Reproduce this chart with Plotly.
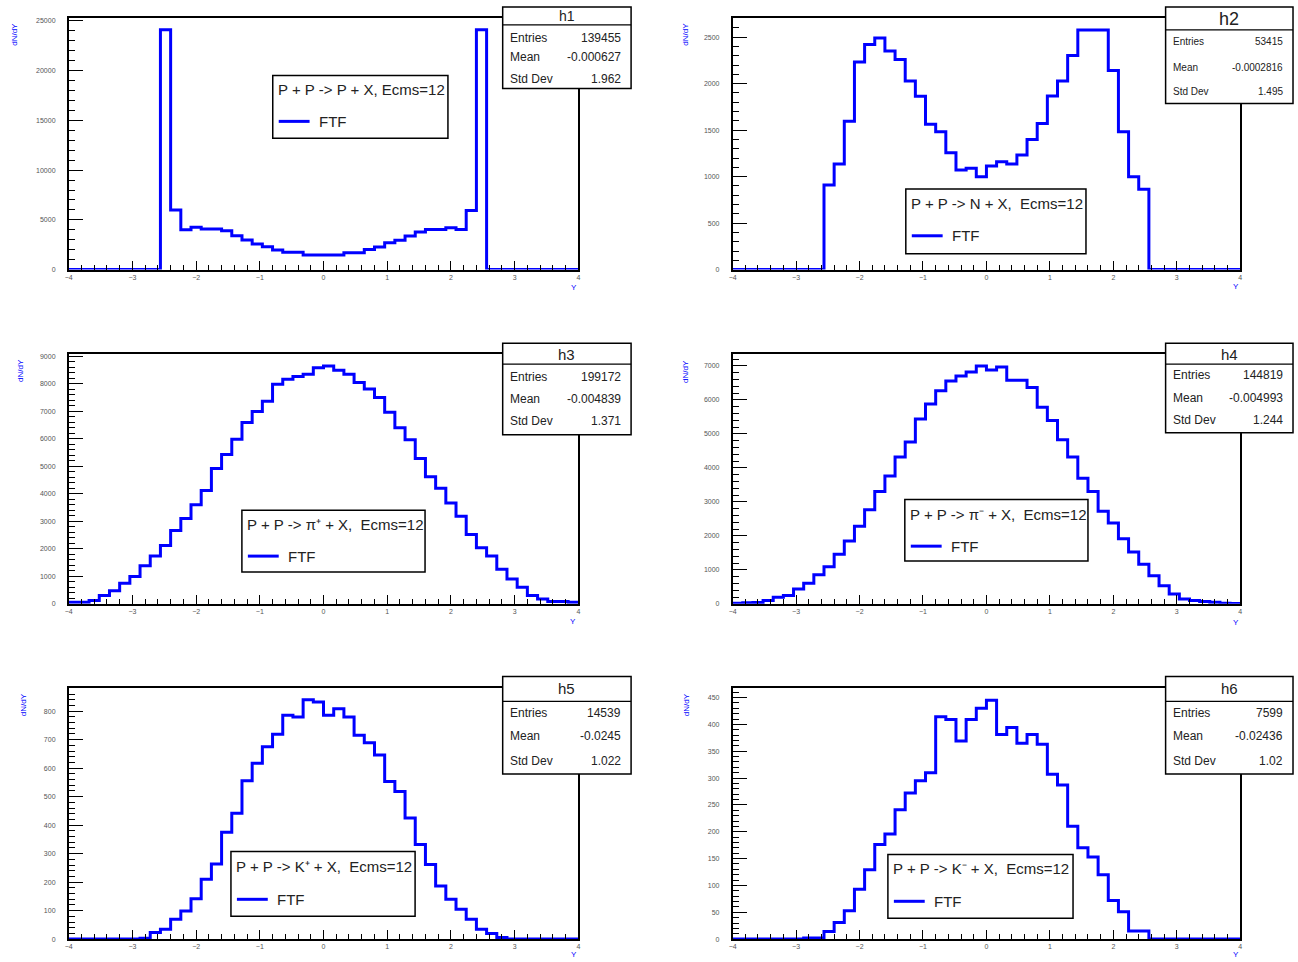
import numpy as np
import plotly.graph_objects as go

# ---------------- data ----------------
BIN_LOW = -4.0
BIN_HIGH = 4.0
N_BINS = 50

h1_counts = [0, 0, 0, 0, 0, 0, 0, 0, 0,
             24100, 6000, 4000, 4270, 4070, 4070, 3900, 3400, 2970, 2570, 2300, 1970, 1740, 1740, 1470, 1470,
             1470, 1470, 1700, 1700, 2030, 2270, 2700, 2940, 3370, 3770, 4040, 4040, 4200, 4040, 5940, 24100,
             0, 0, 0, 0, 0, 0, 0, 0, 0]
h2_counts = [0, 0, 0, 0, 0, 0, 0, 0, 0,
             910, 1135, 1596, 2232, 2420, 2492, 2350, 2260, 2028, 1864, 1564, 1482, 1257, 1071, 1090, 1000,
             1114, 1160, 1135, 1232, 1400, 1571, 1867, 2028, 2303, 2578, 2578, 2578, 2142, 1482, 1000, 864,
             0, 0, 0, 0, 0, 0, 0, 0, 0]
h3_counts = [60, 60, 120, 300, 480, 744, 996, 1380, 1740, 2124,
             2664, 3096, 3600, 4116, 4920, 5424, 5976, 6588, 6984, 7356,
             7980, 8160, 8256, 8340, 8580, 8640, 8484, 8340, 8040, 7800,
             7500, 6960, 6396, 5964, 5280, 4620, 4200, 3660, 3180, 2520,
             2040, 1740, 1260, 900, 600, 300, 180, 84, 84, 60]
h4_counts = [20, 30, 40, 97, 194, 243, 437, 603, 855, 1089,
             1458, 1847, 2284, 2770, 3305, 3762, 4325, 4763, 5443, 5881,
             6269, 6561, 6707, 6823, 6998, 6880, 6970, 6580, 6580, 6367,
             5783, 5395, 4831, 4325, 3694, 3305, 2722, 2381, 1915, 1526,
             1166, 826, 535, 292, 146, 97, 68, 49, 20, 10]
h5_counts = [0, 0, 0, 0, 0, 0, 0,
             3, 23, 35, 70, 99, 142, 210, 264, 375, 442,
             556, 617, 675, 719, 786, 780, 840, 832, 786, 809,
             780, 716, 689, 646, 553, 518, 425, 332, 262, 186,
             140, 105, 70, 35, 20, 6,
             0, 0, 0, 0, 0, 0, 0]
h6_counts = [0, 0, 0, 0, 0, 0, 0,
             2, 2, 14, 31, 53, 93, 129, 176, 196, 241,
             272, 295, 310, 414, 409, 369, 409, 430, 445, 381,
             394, 365, 381, 363, 307, 287, 210, 170, 153, 120,
             72, 51, 15, 15,
             0, 0, 0, 0, 0, 0, 0, 0, 0]

hist_names = ["h1", "h2", "h3", "h4", "h5", "h6"]
stat_entries = ["139455", "53415", "199172", "144819", "14539", "7599"]
stat_means = ["-0.000627", "-0.0002816", "-0.004839", "-0.004993", "-0.0245", "-0.02436"]
stat_stddevs = ["1.962", "1.495", "1.371", "1.244", "1.022", "1.02"]
legend_titles = [
    "P + P -> P + X, Ecms=12",
    "P + P -> N + X,\u00a0 Ecms=12",
    "P + P -> \u03c0\u207a + X,\u00a0 Ecms=12",
    "P + P -> \u03c0\u207b + X,\u00a0 Ecms=12",
    "P + P -> K\u207a + X,\u00a0 Ecms=12",
    "P + P -> K\u207b + X,\u00a0 Ecms=12",
]
legend_entry = "FTF"
y_title = "dN/dY"
x_title = "Y"

all_counts = [h1_counts, h2_counts, h3_counts, h4_counts, h5_counts, h6_counts]

# ---------------- layout helpers ----------------
W, H = 1298, 962
BLUE = "#0000ff"
FONT = "Liberation Sans, Arial, sans-serif"


def X(px):
    return px / W


def Y(py):
    return 1 - py / H


col_x = [(65, 577), (732, 1242)]
row_y = [(16, 269), (354, 605), (690, 942)]

y_max = [25300, 2707, 9070, 7348, 880, 467]
y_major = [5000, 500, 1000, 1000, 100, 50]
y_minor = [1000, 100, 200, 200, 20, 10]

# stats boxes: (x0, y0, x1, y1, sep_y, title_y, row_ys, title_size, row_size)
stat_boxes = [
    (501, 5, 630, 87, 23, 14, (36, 55, 77), 14, 12),
    (1167, 5, 1295, 102, 28, 17, (40, 66, 90), 18, 10),
    (501, 343, 630, 435, 364, 354, (377, 399, 421), 15, 12),
    (1167, 343, 1295, 433, 364, 354, (375, 398, 420), 15, 12),
    (501, 678, 630, 776, 703, 690, (715, 738, 763), 15, 12),
    (1167, 678, 1295, 776, 703, 690, (715, 738, 763), 15, 12),
]
# legend boxes: (x0, y0, x1, y1, title_y, entry_y)
leg_boxes = [
    (270, 74, 446, 137, 88, 120),
    (906, 188, 1087, 253, 203, 235),
    (239, 511, 423, 573, 525, 557),
    (905, 500, 1089, 562, 515, 547),
    (228, 854, 413, 919, 869, 902),
    (888, 857, 1074, 921, 871, 904),
]
ytitle_pos = [(11, 32), (685, 32), (16, 370), (684, 371), (19, 706), (686, 706)]
xtitle_pos = [(573, 287), (1238, 286), (572, 623), (1238, 624), (573, 957), (1238, 957)]

edges = np.linspace(BIN_LOW, BIN_HIGH, N_BINS + 1)

fig = go.Figure()
shapes = []
annotations = []
layout_axes = {}

for i in range(6):
    r, c = divmod(i, 2)
    fx0, fx1 = col_x[c]
    fy0, fy1 = row_y[r]
    xa = "x" if i == 0 else f"x{i + 1}"
    ya = "y" if i == 0 else f"y{i + 1}"
    xkey = "xaxis" if i == 0 else f"xaxis{i + 1}"
    ykey = "yaxis" if i == 0 else f"yaxis{i + 1}"

    counts = list(all_counts[i])
    fig.add_trace(go.Scatter(
        x=edges, y=counts + [counts[-1]], mode="lines", line_shape="hv",
        line=dict(color=BLUE, width=3), xaxis=xa, yaxis=ya, showlegend=False,
        hoverinfo="skip"))

    layout_axes[xkey] = dict(
        domain=[X(fx0), X(fx1)], anchor=ya, range=[BIN_LOW, BIN_HIGH],
        tickmode="linear", tick0=BIN_LOW, dtick=1, ticks="inside", ticklen=9,
        tickwidth=1, tickcolor="black", showline=True, linecolor="black",
        linewidth=1.5, mirror=True, showgrid=False, zeroline=False,
        tickfont=dict(size=7, color="#555", family=FONT),
        minor=dict(ticks="inside", dtick=0.2, tick0=BIN_LOW, ticklen=5,
                   tickcolor="black", tickwidth=1, showgrid=False))
    layout_axes[ykey] = dict(
        domain=[Y(fy1), Y(fy0)], anchor=xa, range=[0, y_max[i]],
        tickmode="linear", tick0=0, dtick=y_major[i], ticks="inside", ticklen=15,
        tickwidth=1.2, tickcolor="black", showline=True, linecolor="black",
        linewidth=1.5, mirror=True, showgrid=False, zeroline=False,
        exponentformat="none", separatethousands=False, tickformat="d",
        tickfont=dict(size=7, color="#555", family=FONT), ticklabelstandoff=10,
        minor=dict(ticks="inside", dtick=y_minor[i], tick0=0, ticklen=7,
                   tickcolor="black", tickwidth=1, showgrid=False))

    # stats box
    bx0, by0, bx1, by1, sep, ty, rows, tsize, rsize = stat_boxes[i]
    shapes.append(dict(type="rect", xref="paper", yref="paper", x0=X(bx0), x1=X(bx1),
                       y0=Y(by1), y1=Y(by0), fillcolor="white",
                       line=dict(color="black", width=1.5), layer="above"))
    shapes.append(dict(type="line", xref="paper", yref="paper", x0=X(bx0), x1=X(bx1),
                       y0=Y(sep), y1=Y(sep), line=dict(color="black", width=1.2), layer="above"))
    annotations.append(dict(text=hist_names[i], xref="paper", yref="paper",
                            x=X((bx0 + bx1) / 2), y=Y(ty), xanchor="center", yanchor="middle",
                            showarrow=False, font=dict(size=tsize, color="#222", family=FONT)))
    labels = ["Entries", "Mean", "Std Dev"]
    values = [stat_entries[i], stat_means[i], stat_stddevs[i]]
    for lab, val, ry in zip(labels, values, rows):
        annotations.append(dict(text=lab, xref="paper", yref="paper", x=X(bx0 + 5), y=Y(ry),
                                xanchor="left", yanchor="middle", showarrow=False,
                                font=dict(size=rsize, color="#222", family=FONT)))
        annotations.append(dict(text=val, xref="paper", yref="paper", x=X(bx1 - 8), y=Y(ry),
                                xanchor="right", yanchor="middle", showarrow=False,
                                font=dict(size=rsize, color="#222", family=FONT)))

    # legend box
    lx0, ly0, lx1, ly1, lty, ley = leg_boxes[i]
    shapes.append(dict(type="rect", xref="paper", yref="paper", x0=X(lx0), x1=X(lx1),
                       y0=Y(ly1), y1=Y(ly0), fillcolor="white",
                       line=dict(color="black", width=1.5), layer="above"))
    shapes.append(dict(type="line", xref="paper", yref="paper", x0=X(lx0 + 6), x1=X(lx0 + 37),
                       y0=Y(ley), y1=Y(ley), line=dict(color=BLUE, width=3), layer="above"))
    annotations.append(dict(text=legend_titles[i], xref="paper", yref="paper",
                            x=X(lx0 + 3), y=Y(lty), xanchor="left", yanchor="middle",
                            showarrow=False, font=dict(size=15, color="#222", family=FONT)))
    annotations.append(dict(text=legend_entry, xref="paper", yref="paper",
                            x=X(lx0 + 44), y=Y(ley), xanchor="left", yanchor="middle",
                            showarrow=False, font=dict(size=15, color="#222", family=FONT)))

    # axis titles
    tx, tyy = ytitle_pos[i]
    annotations.append(dict(text=y_title, xref="paper", yref="paper", x=X(tx), y=Y(tyy),
                            xanchor="center", yanchor="middle", textangle=-90, showarrow=False,
                            font=dict(size=8, color=BLUE, family=FONT)))
    xx, xy = xtitle_pos[i]
    annotations.append(dict(text=x_title, xref="paper", yref="paper", x=X(xx), y=Y(xy),
                            xanchor="center", yanchor="middle", showarrow=False,
                            font=dict(size=8, color=BLUE, family=FONT)))

fig.update_layout(
    width=W, height=H, margin=dict(l=0, r=0, t=0, b=0, pad=0),
    paper_bgcolor="white", plot_bgcolor="white", showlegend=False,
    shapes=shapes, annotations=annotations, font=dict(family=FONT),
    **layout_axes)

fig.write_html("out.html", config={"displayModeBar": False},
               post_script="document.body.style.margin='0';")
